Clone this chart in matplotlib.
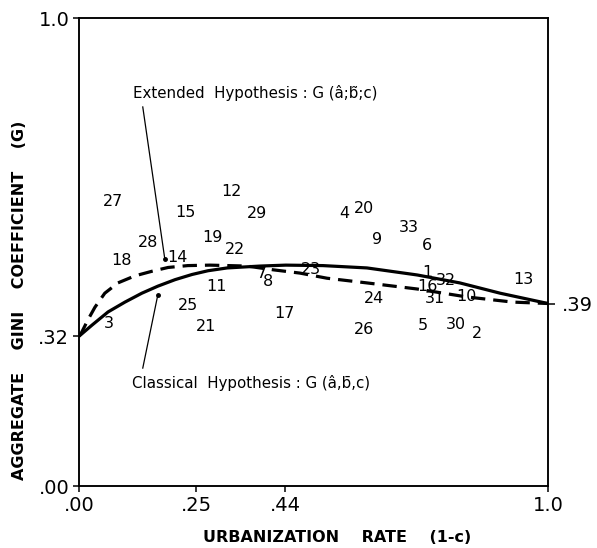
import matplotlib
matplotlib.use("Agg")
import matplotlib.pyplot as plt

# curves (x = urbanization rate 1-c, y = aggregate Gini)
classical_x = [0.0, 0.028, 0.062, 0.098, 0.134, 0.168, 0.205, 0.241, 0.275, 0.316, 0.386,
               0.441, 0.520, 0.614, 0.721, 0.812, 0.898, 1.0]
classical_y = [0.32, 0.344, 0.372, 0.393, 0.412, 0.427, 0.441, 0.452, 0.460, 0.466, 0.470,
               0.472, 0.471, 0.466, 0.451, 0.434, 0.412, 0.39]

extended_x = [0.0, 0.006, 0.019, 0.034, 0.055, 0.083, 0.119, 0.156, 0.190, 0.232, 0.279,
              0.358, 0.414, 0.471, 0.529, 0.614, 0.721, 0.827, 0.925, 1.0]
extended_y = [0.32, 0.329, 0.355, 0.382, 0.412, 0.434, 0.449, 0.459, 0.467, 0.471, 0.472,
              0.470, 0.462, 0.455, 0.444, 0.434, 0.421, 0.404, 0.393, 0.39]

# countries (numbered)
country_id = [1, 2, 3, 4, 5, 6, 7, 8, 9, 10, 11, 12, 13, 14, 15, 16, 17,
              18, 19, 20, 21, 22, 23, 24, 25, 26, 27, 28, 29, 30, 31, 32, 33]
country_x = [0.742, 0.849, 0.064, 0.565, 0.733, 0.742, 0.390, 0.403, 0.635, 0.827, 0.294,
             0.326, 0.947, 0.209, 0.228, 0.742, 0.439, 0.090, 0.284, 0.608, 0.271, 0.333,
             0.495, 0.629, 0.232, 0.608, 0.072, 0.147, 0.380, 0.804, 0.759, 0.783, 0.704]
country_y = [0.457, 0.325, 0.348, 0.583, 0.342, 0.515, 0.455, 0.438, 0.526, 0.404, 0.427,
             0.630, 0.442, 0.489, 0.585, 0.427, 0.368, 0.481, 0.530, 0.594, 0.340, 0.506,
             0.462, 0.400, 0.385, 0.335, 0.609, 0.521, 0.583, 0.346, 0.400, 0.440, 0.553]

fig = plt.figure(figsize=(5.97, 5.48), dpi=100)
ax = fig.add_axes([0.1323, 0.1131, 0.7856, 0.854])
ax.set_xlim(0, 1)
ax.set_ylim(0, 1)

ax.plot(classical_x, classical_y, color="black", lw=2.3, solid_capstyle="round",
        solid_joinstyle="round")
ax.plot(extended_x, extended_y, color="black", lw=2.3, dashes=(4.5, 2.5))

for n, x, y in zip(country_id, country_x, country_y):
    ax.text(x, y, str(n), ha="center", va="center", fontsize=11.5)

# labels of the two curves
ax.plot([0.136, 0.183], [0.810, 0.485], color="black", lw=0.9)
ax.plot([0.183], [0.485], "o", color="black", ms=2.5)
ax.text(0.115, 0.840, "Extended  Hypothesis : G (\u00e2;b\u0303;c)",
        fontsize=10.8, va="center", ha="left")

ax.plot([0.136, 0.168], [0.252, 0.408], color="black", lw=0.9)
ax.plot([0.168], [0.408], "o", color="black", ms=2.5)
ax.text(0.113, 0.220, "Classical  Hypothesis : G (\u00e2,b\u0304,c)",
        fontsize=10.8, va="center", ha="left")

ax.set_xticks([0.0, 0.25, 0.44, 1.0])
ax.set_xticklabels([".00", ".25", ".44", "1.0"])
ax.set_yticks([0.0, 0.32, 1.0])
ax.set_yticklabels([".00", ".32", "1.0"])
ax.tick_params(axis="both", direction="out", length=4, width=1.1, labelsize=14, pad=3)

right = ax.twinx()
right.set_ylim(0, 1)
right.set_yticks([0.39])
right.set_yticklabels([".39"])
right.tick_params(axis="y", direction="out", length=5, width=1.1, labelsize=14, pad=5)

for a in (ax, right):
    for s in a.spines.values():
        s.set_linewidth(1.1)

ax.set_xlabel("URBANIZATION    RATE    (1-c)", fontsize=11.5, fontweight="bold")
ax.xaxis.set_label_coords(0.55, -0.094)
ax.set_ylabel("AGGREGATE    GINI    COEFFICIENT    (G)", fontsize=11.5, fontweight="bold")
ax.yaxis.set_label_coords(-0.111, 0.397)

fig.savefig("out.png", dpi=100)
